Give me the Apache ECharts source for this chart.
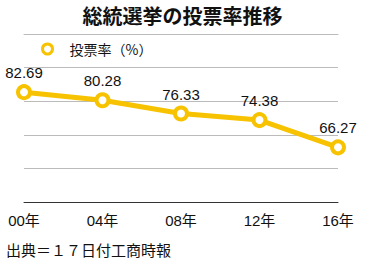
<!DOCTYPE html>
<html><head><meta charset="utf-8">
<script src="https://cdn.jsdelivr.net/npm/echarts@6/dist/echarts.min.js"></script>
<style>html,body{margin:0;padding:0;background:#fff}#c{width:365px;height:263px}</style>
</head><body><div id="c"></div>
<script>
const categories = ['00年', '04年', '08年', '12年', '16年'];
const turnout = [82.69, 80.28, 76.33, 74.38, 66.27];
const yMin = 50, yMax = 100, yStep = 10;
const seriesName = '投票率（%）';
const titleText = '総統選挙の投票率推移';
const sourceText = '出典＝１７日付工商時報';

const font = '"Liberation Sans", "Noto Sans CJK JP", sans-serif';
const cjk = '"Noto Sans CJK JP", sans-serif';
const gold = '#F7C300';
const chart = echarts.init(document.getElementById('c'), null, {renderer: 'svg'});
chart.setOption({
  animation: false,
  backgroundColor: '#fff',
  title: {
    text: titleText, left: 'center', top: 0,
    textStyle: {fontFamily: cjk, fontSize: 20, fontWeight: 'bold', color: '#111'}
  },
  legend: {
    left: 36, top: 37, itemWidth: 10, itemHeight: 10, itemGap: 8,
    textStyle: {fontFamily: cjk, fontSize: 14, color: '#111', padding: [0, 0, 0, 12]},
    data: [{name: seriesName, icon: 'circle',
      itemStyle: {color: '#fff', borderColor: gold, borderWidth: 3}}]
  },
  graphic: [{
    type: 'text', left: 6, top: 242,
    style: {text: sourceText, fontFamily: cjk, fontSize: 15, fill: '#111'}
  }],
  grid: {left: 24, right: 27, top: 34, bottom: 61, containLabel: false},
  xAxis: [{
    type: 'category', data: categories, boundaryGap: false,
    axisLine: {show: true, lineStyle: {color: '#333', width: 1}},
    axisTick: {show: false},
    axisLabel: {fontFamily: font, fontSize: 15, color: '#111', margin: 11}
  }, {
    type: 'category', data: categories, boundaryGap: false, position: 'top',
    axisLine: {show: true, onZero: false, lineStyle: {color: '#bbb', width: 1}},
    axisTick: {show: false}, axisLabel: {show: false}, splitLine: {show: false}
  }],
  yAxis: [{
    type: 'value', min: yMin, max: yMax, interval: yStep,
    axisLine: {show: false}, axisTick: {show: false}, axisLabel: {show: false},
    splitLine: {show: true, showMaxLine: true, lineStyle: {color: '#bbb', width: 1}}
  }],
  series: [{
    name: seriesName, type: 'line', data: turnout, xAxisIndex: 0,
    symbol: 'circle', symbolSize: 12,
    lineStyle: {color: gold, width: 5},
    itemStyle: {color: '#fff', borderColor: gold, borderWidth: 4},
    label: {show: true, position: 'top', distance: 4, fontFamily: font, fontSize: 15, color: '#111',
      formatter: p => p.value.toFixed(2)}
  }]
});
</script></body></html>
